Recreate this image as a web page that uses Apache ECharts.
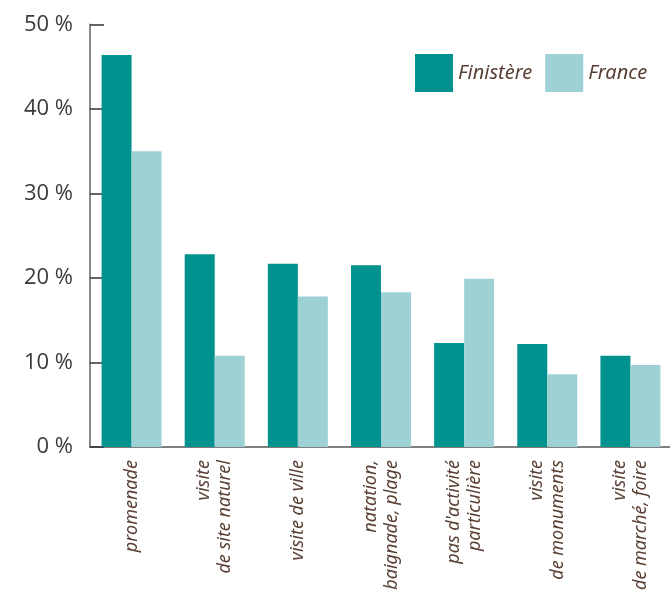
<!DOCTYPE html>
<html>
<head>
<meta charset="utf-8">
<style>
  html, body { margin: 0; padding: 0; background: #fff; }
  #chart { width: 670px; height: 590px; }
</style>
<script src="https://cdn.jsdelivr.net/npm/echarts@6/dist/echarts.min.js"></script>
</head>
<body>
<div id="chart"></div>
<script>
// Activités pratiquées : Finistère vs France (part en %)
const categories = [
  "promenade",
  "visite\nde site naturel",
  "visite de ville",
  "natation,\nbaignade, plage",
  "pas d'activité\nparticulière",
  "visite\nde monuments",
  "visite\nde marché, foire"
];
const finistere = [46.4, 22.8, 21.7, 21.5, 12.3, 12.2, 10.8];
const france = [35.0, 10.8, 17.8, 18.3, 19.9, 8.6, 9.7];
const yTicks = [0, 10, 20, 30, 40, 50];

const brown = "#5a4034";
const chart = echarts.init(document.getElementById("chart"));
chart.setOption({
  animation: false,
  grid: { left: 90, right: -2, top: 24.5, bottom: 143, outerBoundsMode: "none" },
  legend: {
    left: 415, top: 54, padding: 0,
    itemWidth: 38, itemHeight: 38, itemGap: 13,
    icon: "rect",
    textStyle: { fontFamily: "Noto Sans", fontStyle: "italic", fontSize: 20, color: brown },
    data: ["Finistère", "France"]
  },
  xAxis: {
    type: "category",
    data: categories,
    axisLine: { lineStyle: { color: "#555", width: 1.5 } },
    axisTick: { inside: true, length: 11, lineStyle: { color: "#666", width: 1.5 } },
    axisLabel: {
      rotate: 90, margin: 13, interval: 0,
      fontFamily: "Noto Sans", fontStyle: "italic", fontSize: 18,
      lineHeight: 21, color: brown
    }
  },
  yAxis: {
    type: "value",
    min: 0, max: 50, interval: 10,
    axisLine: { show: true, lineStyle: { color: "#8a8a8a", width: 2 } },
    axisTick: { show: true, inside: true, length: 14, lineStyle: { color: "#333", width: 1.5 } },
    splitLine: { show: false },
    axisLabel: {
      margin: 17, fontFamily: "Open Sans", fontSize: 22, color: "#3a3a3a",
      formatter: v => yTicks.includes(v) ? v + " %" : ""
    }
  },
  series: [
    { name: "Finistère", type: "bar", data: finistere, barWidth: 30, barGap: "0%",
      itemStyle: { color: "#00928f" } },
    { name: "France", type: "bar", data: france, barWidth: 30, barGap: "0%",
      itemStyle: { color: "#9dd1d4" } }
  ]
});
</script>
</body>
</html>
